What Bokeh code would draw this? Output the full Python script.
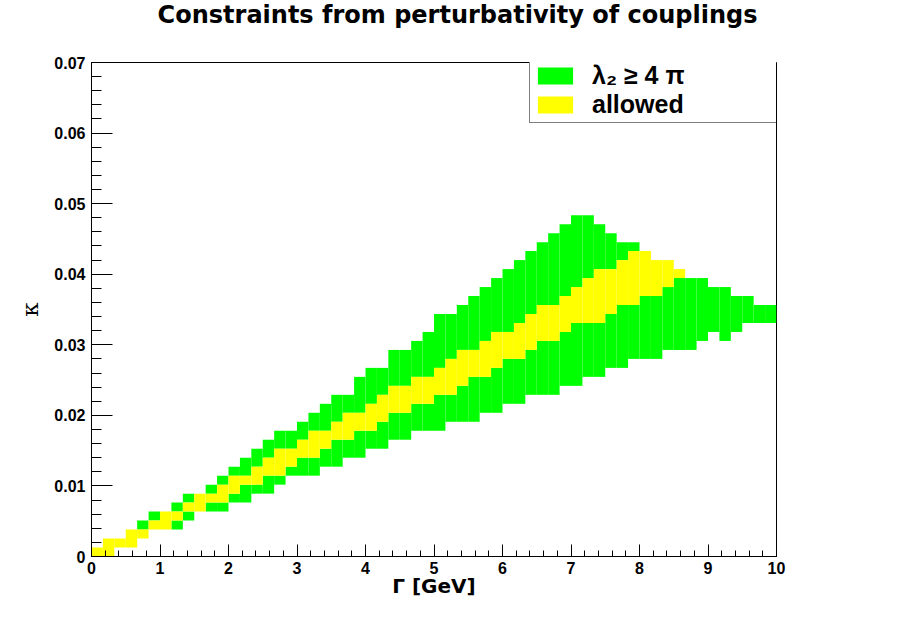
from bokeh.plotting import figure
from bokeh.models import (FixedTicker, Legend, LegendItem, ColumnDataSource, Range1d, Title)
from bokeh.embed import file_html
from bokeh.resources import INLINE

# ---------------- data ----------------
TITLE = "Constraints from perturbativity of couplings"
X_LABEL = "Γ [GeV]"
Y_LABEL = "κ"
LEGEND_LABELS = ["λ₂ ≥ 4 π", "allowed"]

GAMMA_MIN, GAMMA_MAX, N_GAMMA_BINS = 0.0, 10.0, 60
KAPPA_MIN, KAPPA_MAX, N_KAPPA_BINS = 0.0, 0.07, 55

# per Γ bin: lowest filled κ bin, allowed (yellow) κ-bin range, highest filled κ bin
FILL_LO = [0, 0, 1, 1, 2, 3, 3, 3, 4, 5,
           5, 5, 6, 6, 7, 7, 8, 9, 9, 9,
           10, 10, 11, 11, 12, 12, 13, 13, 14, 14,
           14, 15, 15, 15, 16, 16, 17, 17, 18, 18,
           18, 19, 19, 20, 20, 21, 21, 22, 22, 22,
           23, 23, 23, 24, 25, 24, 25, 26, 26, 26]
ALLOWED_LO = [0, 0, 1, 1, 2, 3, 3, 4, 5, 5,
              6, 6, 7, 8, 8, 9, 9, 10, 11, 11,
              12, 13, 13, 14, 14, 15, 16, 16, 17, 17,
              18, 18, 19, 20, 20, 21, 22, 22, 23, 24,
              24, 25, 26, 26, 26, 27, 28, 28, 29, 29,
              30, 31, None, None, None, None, None, None, None, None]
ALLOWED_HI = [0, 1, 1, 2, 2, 3, 4, 4, 5, 6,
              6, 7, 8, 8, 9, 10, 11, 11, 12, 13,
              13, 14, 15, 15, 16, 17, 18, 18, 19, 19,
              20, 21, 22, 22, 23, 24, 24, 25, 26, 27,
              27, 28, 29, 30, 31, 31, 32, 33, 33, 32,
              32, 31, None, None, None, None, None, None, None, None]
FILL_HI = [0, 1, 1, 2, 3, 4, 4, 5, 6, 6,
           7, 8, 9, 10, 11, 12, 13, 13, 14, 15,
           16, 17, 17, 19, 20, 20, 22, 22, 23, 24,
           26, 26, 27, 28, 29, 30, 31, 32, 33, 34,
           35, 36, 37, 37, 36, 35, 34, 34, 33, 32,
           32, 31, 30, 30, 29, 29, 28, 28, 27, 27]

X_TICKS = [0, 1, 2, 3, 4, 5, 6, 7, 8, 9, 10]
Y_TICKS = [0, 0.01, 0.02, 0.03, 0.04, 0.05, 0.06, 0.07]
Y_TICK_LABELS = ["0", "0.01", "0.02", "0.03", "0.04", "0.05", "0.06", "0.07"]

GREEN = "#00ff00"
YELLOW = "#ffff00"

# ---------------- build cells ----------------
dx = (GAMMA_MAX - GAMMA_MIN) / N_GAMMA_BINS
dk = (KAPPA_MAX - KAPPA_MIN) / N_KAPPA_BINS

green = dict(left=[], right=[], bottom=[], top=[])
yellow = dict(left=[], right=[], bottom=[], top=[])


def add(store, i, lo, hi):
    store["left"].append(GAMMA_MIN + i * dx)
    store["right"].append(GAMMA_MIN + (i + 1) * dx)
    store["bottom"].append(KAPPA_MIN + lo * dk)
    store["top"].append(KAPPA_MIN + (hi + 1) * dk)


for i in range(N_GAMMA_BINS):
    flo, fhi = FILL_LO[i], FILL_HI[i]
    alo, ahi = ALLOWED_LO[i], ALLOWED_HI[i]
    if alo is None:
        add(green, i, flo, fhi)
        continue
    if flo < alo:
        add(green, i, flo, alo - 1)
    add(yellow, i, alo, ahi)
    if fhi > ahi:
        add(green, i, ahi + 1, fhi)

# ---------------- figure ----------------
FONT = "Liberation Sans"

p = figure(width=897, height=603, output_backend="svg", toolbar_location=None,
           x_range=Range1d(GAMMA_MIN, GAMMA_MAX), y_range=Range1d(KAPPA_MIN, KAPPA_MAX),
           min_border_left=91, min_border_right=121, min_border_top=61, min_border_bottom=47)
p.background_fill_color = "white"
p.border_fill_color = "white"
p.outline_line_color = "black"
p.outline_line_width = 1
p.grid.visible = False

# spacer (closest to the frame) then the real title above it
spacer = Title(text=" ", text_font_size="26px", standoff=0, text_color="white")
p.add_layout(spacer, "above")
title = Title(text=TITLE, text_font="DejaVu Sans", text_font_style="bold",
              text_font_size="24px", text_color="black", align="right", offset=19,
              vertical_align="top", standoff=0)
p.add_layout(title, "above")

g_r = p.quad(source=ColumnDataSource(green), left="left", right="right", bottom="bottom",
             top="top", fill_color=GREEN, line_color=None)
y_r = p.quad(source=ColumnDataSource(yellow), left="left", right="right", bottom="bottom",
             top="top", fill_color=YELLOW, line_color=None)

# axes
xa = p.xaxis[0]
xa.ticker = FixedTicker(ticks=X_TICKS, minor_ticks=[k * 0.2 for k in range(51)])
xa.major_tick_in = 12
xa.major_tick_out = 0
xa.minor_tick_in = 6
xa.minor_tick_out = 0
xa.major_label_standoff = 5
xa.axis_label = X_LABEL
xa.axis_label_text_font = "DejaVu Sans"
xa.axis_label_text_font_style = "bold"
xa.axis_label_text_font_size = "20px"
xa.axis_label_standoff = -3

ya = p.yaxis[0]
ya.ticker = FixedTicker(ticks=Y_TICKS, minor_ticks=[k * 0.002 for k in range(36)])
ya.major_label_overrides = {t: s for t, s in zip(Y_TICKS, Y_TICK_LABELS)}
ya.major_tick_in = 21
ya.major_tick_out = 0
ya.minor_tick_in = 10
ya.minor_tick_out = 0
ya.major_label_standoff = 6
ya.axis_label = Y_LABEL
ya.axis_label_text_font = "DejaVu Serif"
ya.axis_label_text_font_style = "normal"
ya.axis_label_text_font_size = "23px"
ya.axis_label_standoff = 8

for ax in (xa, ya):
    ax.axis_line_color = "black"
    ax.major_tick_line_color = "black"
    ax.minor_tick_line_color = "black"
    ax.major_label_text_font = FONT
    ax.major_label_text_font_style = "bold"
    ax.major_label_text_font_size = "16px"
    ax.major_label_text_color = "black"
    ax.axis_label_text_color = "black"

legend = Legend(
    items=[LegendItem(label=LEGEND_LABELS[0], renderers=[g_r]),
           LegendItem(label=LEGEND_LABELS[1], renderers=[y_r])],
    location=(438, 433), orientation="vertical",
    padding=3, spacing=0, margin=0,
    glyph_width=44, glyph_height=21, label_standoff=15, label_width=182,
    label_text_font=FONT, label_text_font_style="bold", label_text_font_size="25px",
    label_text_color="black",
    border_line_color="black", border_line_width=1,
    background_fill_color="white", background_fill_alpha=1.0,
)
p.add_layout(legend)

open("out.html", "w").write(file_html(p, INLINE))
